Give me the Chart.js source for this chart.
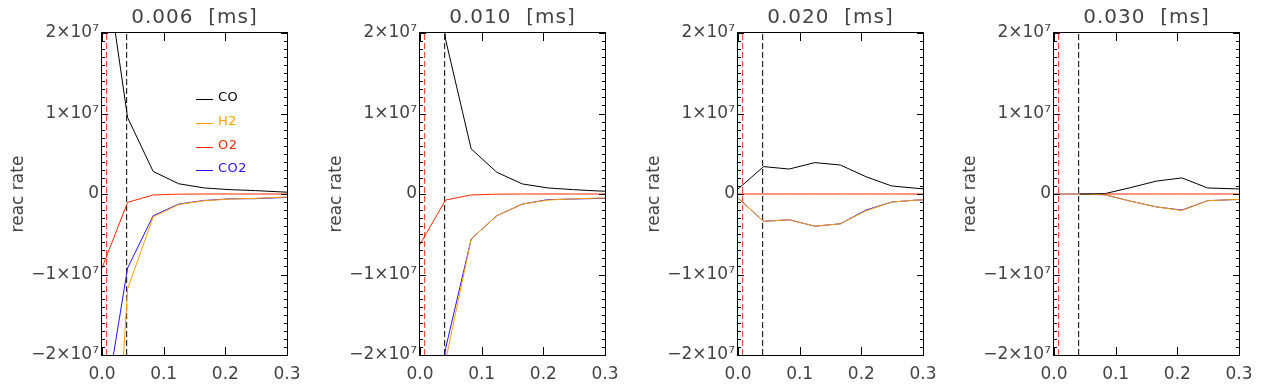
<!DOCTYPE html>
<html>
<head>
<meta charset="utf-8">
<script src="https://cdn.jsdelivr.net/npm/chart.js@4.4.1/dist/chart.umd.min.js"></script>
<style>
  html, body { margin: 0; padding: 0; background: #fff; }
  #wrap { position: relative; width: 1270px; height: 390px; }
  .panel { position: absolute; top: 0; width: 318px; height: 390px; }
</style>
</head>
<body>
<div id="wrap">
  <div class="panel" style="left:0px"><canvas id="c0" width="318" height="390"></canvas></div>
  <div class="panel" style="left:318px"><canvas id="c1" width="318" height="390"></canvas></div>
  <div class="panel" style="left:636px"><canvas id="c2" width="318" height="390"></canvas></div>
  <div class="panel" style="left:952px"><canvas id="c3" width="318" height="390"></canvas></div>
</div>
<script>
// panel titles (time in ms)
const times = ["0.006", "0.010", "0.020", "0.030"];
const species = ["CO", "H2", "O2", "CO2"];
const speciesColors = ["#000000", "#ffa000", "#ff2800", "#2a10ff"];

// grid positions (x) shared by every series
const xs = [0, 0.0415, 0.083, 0.1245, 0.166, 0.2075, 0.249, 0.2905, 0.332];

// reaction rates, one row per panel
const coRates = [
  [3.15e7, 0.95e7, 0.28e7, 0.127e7, 0.075e7, 0.054e7, 0.042e7, 0.026e7, 0.012e7],
  [5e7, 1.92e7, 0.56e7, 0.27e7, 0.125e7, 0.075e7, 0.054e7, 0.037e7, 0.03e7],
  [0.0625e7, 0.34e7, 0.31e7, 0.39e7, 0.36e7, 0.215e7, 0.1e7, 0.07e7, 0.05e7],
  [null, 0, 0.005e7, 0.08e7, 0.16e7, 0.2e7, 0.075e7, 0.065e7, 0.055e7],
];
const h2Rates = [
  [-6.3e7, -1.18e7, -0.285e7, -0.13e7, -0.083e7, -0.063e7, -0.054e7, -0.04e7, -0.03e7],
  [-5e7, -2.07e7, -0.56e7, -0.27e7, -0.125e7, -0.075e7, -0.06e7, -0.05e7, -0.045e7],
  [-0.05e7, -0.34e7, -0.32e7, -0.4e7, -0.37e7, -0.21e7, -0.1e7, -0.075e7, -0.07e7],
  [0, 0, -0.01e7, -0.09e7, -0.16e7, -0.205e7, -0.083e7, -0.07e7, -0.065e7],
];
const o2Rates = [
  [-0.92e7, -0.104e7, -0.012e7, -0.002e7, 0, 0, 0, 0, 0],
  [-0.625e7, -0.075e7, -0.012e7, -0.002e7, 0, 0, 0, 0, 0],
  [0, 0, 0, 0, 0, 0, 0, 0, 0],
  [null, null, 0, 0, 0, 0, 0, 0, 0],
];
const co2Rates = [
  [-2.87e7, -0.92e7, -0.27e7, -0.125e7, -0.08e7, -0.06e7, -0.058e7, -0.045e7, -0.035e7],
  [-5e7, -1.92e7, -0.56e7, -0.27e7, -0.125e7, -0.07e7, -0.062e7, -0.055e7, -0.05e7],
  [-0.05e7, -0.34e7, -0.32e7, -0.4e7, -0.37e7, -0.2e7, -0.1e7, -0.075e7, -0.07e7],
  [0, 0, -0.01e7, -0.09e7, -0.16e7, -0.2e7, -0.083e7, -0.07e7, -0.065e7],
];

// dashed marker lines
const redDashX = 0.0075;
const blackDashX = 0.04;

const xTickLabels = ["0.0", "0.1", "0.2", "0.3"];
const yTickValues = [-2e7, -1e7, 0, 1e7, 2e7];
const yTickLabels = ["\u22122\u00d710\u2077", "\u22121\u00d710\u2077", "0", "1\u00d710\u2077", "2\u00d710\u2077"];

const FONT = "DejaVu Sans";
const TEXT = "#444";

function toPoints(values) {
  return xs.map((x, i) => ({ x: x, y: values[i] }));
}

function vline(x, color, order) {
  return {
    data: [{ x: x, y: -2e7 }, { x: x, y: 2e7 }],
    borderColor: color,
    borderWidth: 1,
    borderDash: [6, 3],
    pointRadius: 0,
    order: order,
  };
}

// IDL style box with inward ticks, title and (first panel) legend
const idlFrame = {
  id: "idlFrame",
  afterDatasetsDraw(chart, args, opts) {
    const { ctx, chartArea } = chart;
    const { left, right, top, bottom } = chartArea;
    const xScale = chart.scales.x;
    const yScale = chart.scales.y;
    ctx.save();
    ctx.strokeStyle = "#000";
    ctx.lineWidth = 1;
    ctx.strokeRect(left - 0.5, top - 0.5, right - left + 1, bottom - top + 1);

    ctx.beginPath();
    yScale.ticks.forEach((t) => {
      const py = Math.round(yScale.getPixelForValue(t.value)) + 0.5;
      const len = Math.round(t.value / 1e6) % 10 === 0 ? 6 : 3;
      ctx.moveTo(left, py);
      ctx.lineTo(left + len, py);
      ctx.moveTo(right, py);
      ctx.lineTo(right - len, py);
    });
    xScale.ticks.forEach((t) => {
      const px = Math.round(xScale.getPixelForValue(t.value)) + 0.5;
      ctx.moveTo(px, bottom);
      ctx.lineTo(px, bottom - 8);
      ctx.moveTo(px, top);
      ctx.lineTo(px, top + 8);
    });
    ctx.stroke();

    ctx.fillStyle = TEXT;
    ctx.font = "20px '" + FONT + "'";
    ctx.letterSpacing = "1px";
    ctx.textAlign = "center";
    ctx.textBaseline = "alphabetic";
    ctx.fillText(opts.title + "  [ms]", (left + right) / 2, 23);

    if (opts.legend) {
      ctx.font = "13px '" + FONT + "'";
      ctx.letterSpacing = "0.5px";
      ctx.textAlign = "left";
      species.forEach((name, i) => {
        const ly = Math.round(99 + i * 23.8) + 0.5;
        ctx.strokeStyle = speciesColors[i];
        ctx.beginPath();
        ctx.moveTo(196, ly);
        ctx.lineTo(213, ly);
        ctx.stroke();
        ctx.fillStyle = speciesColors[i];
        ctx.fillText(name, 218, ly + 1.5);
      });
    }
    ctx.restore();
  },
};

times.forEach((time, p) => {
  const seriesValues = [coRates[p], h2Rates[p], o2Rates[p], co2Rates[p]];
  const drawOrder = [1, 2, 0, 3];
  const datasets = species.map((name, i) => ({
    label: name,
    data: toPoints(seriesValues[i]),
    borderColor: speciesColors[i],
    borderWidth: 1,
    pointRadius: 0,
    tension: 0,
    spanGaps: false,
    order: drawOrder[i],
  }));
  datasets.push(vline(redDashX, "#ff3010", 4));
  datasets.push(vline(blackDashX, "#000000", 5));

  new Chart(document.getElementById("c" + p), {
    type: "line",
    data: { datasets: datasets },
    plugins: [idlFrame],
    options: {
      responsive: false,
      animation: false,
      layout: { padding: { top: 33, right: 31, left: 0, bottom: 0 } },
      plugins: {
        legend: { display: false },
        tooltip: { enabled: false },
        idlFrame: { title: time, legend: p === 0 },
      },
      scales: {
        x: {
          type: "linear",
          min: 0,
          max: 0.3,
          afterFit: (s) => { s.height = 35; },
          grid: { display: false, drawTicks: false },
          border: { display: false },
          ticks: {
            stepSize: 0.1,
            autoSkip: false,
            maxRotation: 0,
            padding: 9,
            color: TEXT,
            font: { family: FONT, size: 17 },
            callback: (v) => xTickLabels[Math.round(v * 10)],
          },
        },
        y: {
          type: "linear",
          min: -2e7,
          max: 2e7,
          afterFit: (s) => { s.width = 102; },
          grid: { display: false, drawTicks: false },
          border: { display: false },
          ticks: {
            stepSize: 1e6,
            autoSkip: false,
            padding: 3,
            color: TEXT,
            font: { family: FONT, size: 17 },
            callback: (v) => {
              const k = yTickValues.indexOf(Math.round(v / 1e6) * 1e6);
              return k >= 0 ? yTickLabels[k] : "";
            },
          },
          title: {
            display: true,
            text: "reac rate",
            color: TEXT,
            padding: { top: 8, bottom: 0 },
            font: { family: FONT, size: 17 },
          },
        },
      },
    },
  });
});
</script>
</body>
</html>
